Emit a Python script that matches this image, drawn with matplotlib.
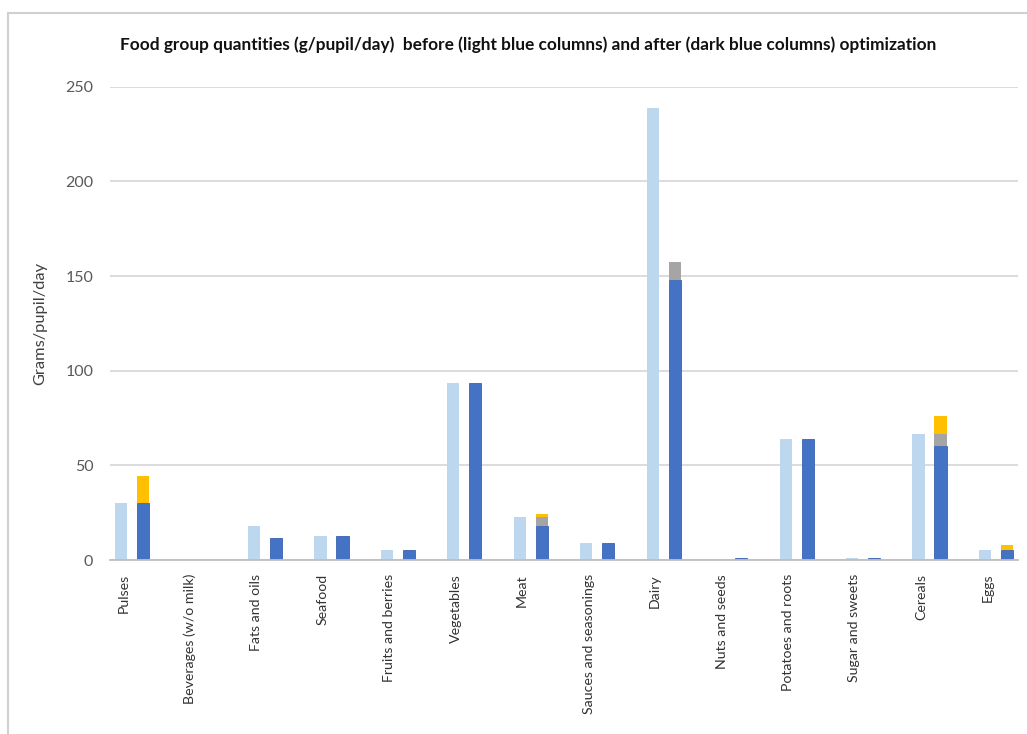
import matplotlib
matplotlib.use("Agg")
import matplotlib.pyplot as plt
import numpy as np
from matplotlib.lines import Line2D

categories = ["Pulses", "Beverages (w/o milk)", "Fats and oils", "Seafood",
              "Fruits and berries", "Vegetables", "Meat", "Sauces and seasonings",
              "Dairy", "Nuts and seeds", "Potatoes and roots", "Sugar and sweets",
              "Cereals", "Eggs"]
before = [30, 0, 18, 12.7, 5.3, 93.5, 22.7, 9, 238.5, 0.6, 64, 1.1, 66.8, 5.3]
after_blue = [30, 0, 11.6, 12.7, 5.3, 93.5, 18, 9, 148, 0.8, 64, 1.2, 60.3, 5.3]
after_grey = [0, 0, 0, 0, 0, 0, 4.8, 0, 9.3, 0, 0, 0, 6.5, 0]
after_yellow = [14.3, 0, 0, 0, 0, 0, 1.5, 0, 0, 0, 0, 0, 9.2, 2.6]
yticks = [0, 50, 100, 150, 200, 250]

plt.rcParams['font.family'] = ['Lato', 'DejaVu Sans']

W, H = 1027, 734
fig = plt.figure(figsize=(W / 100, H / 100), dpi=100)
ax = fig.add_axes([110 / W, 1 - 560 / H, (1018 - 110) / W, (560 - 86.7) / H])

x = np.arange(len(categories))
off = 0.1655
bw = 0.185
light = "#BDD7EE"
dark = "#4472C4"
grey = "#A5A5A5"
yellow = "#FFC000"

ax.bar(x - off, before, width=bw, color=light, zorder=3)
ax.bar(x + off, after_blue, width=bw, color=dark, edgecolor="#3A64B0", linewidth=0.6, zorder=3)
b1 = np.array(after_blue)
ax.bar(x + off, after_grey, width=bw, bottom=b1, color=grey, zorder=3)
b2 = b1 + np.array(after_grey)
ax.bar(x + off, after_yellow, width=bw, bottom=b2, color=yellow, zorder=3)

ax.set_xlim(-0.331, 13.33)
ax.set_ylim(0, 250)
ax.set_yticks(yticks)
ax.yaxis.grid(True, color="#D9D9D9", linewidth=1.3, zorder=0)
ax.set_axisbelow(True)
for s in ["top", "right", "left"]:
    ax.spines[s].set_visible(False)
ax.spines["bottom"].set_color("#BFBFBF")
ax.spines["bottom"].set_linewidth(1.3)
ax.spines["bottom"].set_zorder(4)

ax.set_xticks(x - 0.13)
ax.set_xticklabels(categories, rotation=90, ha="center", va="top",
                   fontsize=10.2, color="#333333")
ax.tick_params(axis="x", length=0, pad=10)
ax.tick_params(axis="y", length=0, pad=12, labelsize=11.5, labelcolor="#595959")

ax.set_ylabel("Grams/pupil/day", fontsize=11.8, color="#404040")
ax.yaxis.set_label_coords(-0.069, 0.5)

fig.text(528 / W, 1 - 45 / H,
         "Food group quantities (g/pupil/day)  before (light blue columns) and after (dark blue columns) optimization",
         ha="center", va="center", fontsize=12.4, fontweight="bold", color="#111111")

# chart frame (left and top edges)
fig.add_artist(Line2D([8 / W, 8 / W], [0, 1 - 13 / H], transform=fig.transFigure,
                      color="#D0D0D0", linewidth=1.5))
fig.add_artist(Line2D([8 / W, 1], [1 - 13 / H, 1 - 13 / H], transform=fig.transFigure,
                      color="#D0D0D0", linewidth=1.5))

fig.savefig("out.png", dpi=100)
